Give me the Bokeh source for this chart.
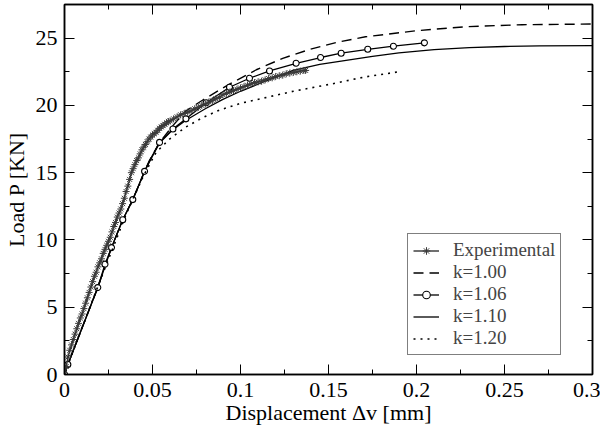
from bokeh.plotting import figure
from bokeh.models import (Range1d, FixedTicker, LinearAxis, Legend, LegendItem)
from bokeh.embed import file_html
from bokeh.resources import INLINE

# ---------------- data ----------------
exp_x = [0, 0.001, 0.002, 0.003, 0.004, 0.005, 0.006, 0.007, 0.008, 0.009,
         0.010, 0.011, 0.012, 0.013, 0.014, 0.015, 0.016, 0.017, 0.018, 0.019,
         0.020, 0.021, 0.022, 0.023, 0.024, 0.025, 0.026, 0.027, 0.028, 0.029,
         0.030, 0.031, 0.032, 0.033, 0.034, 0.035, 0.036, 0.037, 0.038, 0.039,
         0.040, 0.041, 0.042, 0.043, 0.044, 0.045, 0.046, 0.047, 0.048, 0.049,
         0.050, 0.051, 0.052, 0.053, 0.054, 0.055, 0.056, 0.057, 0.058, 0.059,
         0.060, 0.062, 0.064, 0.066, 0.068, 0.070, 0.072, 0.074, 0.076, 0.078,
         0.080, 0.082, 0.084, 0.086, 0.088, 0.090, 0.092, 0.094, 0.096, 0.098,
         0.100, 0.102, 0.104, 0.106, 0.108, 0.110, 0.112, 0.114, 0.116, 0.118,
         0.120, 0.122, 0.124, 0.126, 0.128, 0.130, 0.132, 0.134, 0.136, 0.137]
exp_y = [0, 0.6, 1.3, 1.8, 2.2, 2.6, 3.0, 3.4, 3.8, 4.2,
         4.5, 4.9, 5.3, 5.7, 6.1, 6.5, 6.9, 7.3, 7.6, 8.0,
         8.3, 8.6, 9.0, 9.3, 9.6, 9.9, 10.2, 10.6, 11.0, 11.3,
         11.7, 12.0, 12.3, 12.7, 13.1, 13.6, 14.0, 14.5, 15.0, 15.3,
         15.6, 15.9, 16.1, 16.4, 16.7, 16.9, 17.1, 17.3, 17.5, 17.65,
         17.8, 17.9, 18.0, 18.15, 18.3, 18.4, 18.5, 18.6, 18.7, 18.8,
         18.85, 19.0, 19.15, 19.3, 19.4, 19.5, 19.6, 19.75, 19.85, 20.0,
         20.1, 20.25, 20.35, 20.5, 20.6, 20.8, 20.9, 21.0, 21.1, 21.2,
         21.3, 21.4, 21.5, 21.6, 21.7, 21.75, 21.8, 21.9, 22.0, 22.05,
         22.15, 22.2, 22.25, 22.35, 22.4, 22.45, 22.5, 22.55, 22.6, 22.6]

k100_x = [0, 0.0019, 0.0189, 0.0267, 0.0331, 0.0388, 0.0417, 0.0455, 0.0483,
          0.054, 0.0616, 0.069, 0.0786, 0.090, 0.094, 0.109, 0.124, 0.139,
          0.155, 0.171, 0.200, 0.228, 0.260, 0.300]
k100_y = [0, 0.74, 6.46, 9.43, 11.5, 13.0, 13.9, 15.1, 15.9,
          17.25, 18.5, 19.6, 20.4, 21.3, 21.6, 22.65, 23.5, 24.15,
          24.7, 25.1, 25.55, 25.85, 26.0, 26.05]

k106_x = [0, 0.0019, 0.0189, 0.0230, 0.0267, 0.0331, 0.0388, 0.0455, 0.0540,
          0.0616, 0.0690, 0.0805, 0.09375, 0.1051, 0.1165, 0.1316, 0.1455,
          0.1572, 0.1723, 0.1869, 0.2045]
k106_y = [0, 0.74, 6.46, 8.2, 9.43, 11.5, 13.0, 15.1, 17.25,
          18.25, 19.0, 20.2, 21.35, 22.02, 22.56, 23.13, 23.56,
          23.88, 24.17, 24.4, 24.65]

k110_x = [0, 0.0019, 0.0189, 0.0267, 0.0331, 0.0388, 0.0417, 0.0455, 0.0483,
          0.054, 0.0616, 0.069, 0.080, 0.090, 0.100, 0.115, 0.130, 0.145,
          0.160, 0.175, 0.190, 0.210, 0.230, 0.250, 0.270, 0.300]
k110_y = [0, 0.74, 6.46, 9.43, 11.5, 13.0, 13.9, 15.1, 15.9,
          17.2, 18.2, 18.9, 19.75, 20.45, 21.05, 21.85, 22.6, 23.05,
          23.35, 23.65, 23.9, 24.15, 24.3, 24.38, 24.42, 24.45]

k120_x = [0, 0.0019, 0.020, 0.035, 0.045, 0.052, 0.0597, 0.069, 0.0786, 0.088,
          0.100, 0.115, 0.130, 0.152, 0.170, 0.190]
k120_y = [0, 0.7, 6.9, 11.9, 14.8, 16.5, 17.5, 18.4, 19.1, 19.65,
          20.15, 20.6, 21.05, 21.6, 22.1, 22.5]

x_ticks = [0, 0.05, 0.1, 0.15, 0.2, 0.25, 0.3]
x_tick_labels = ["0", "0.05", "0.1", "0.15", "0.2", "0.25", "0.3"]
x_minor = [0.025, 0.075, 0.125, 0.175, 0.225, 0.275]
y_ticks = [0, 5, 10, 15, 20, 25]
y_tick_labels = ["0", "5", "10", "15", "20", "25"]
y_minor = [2.5, 7.5, 12.5, 17.5, 22.5]

FONT = "Liberation Serif"
FS = "22px"

p = figure(frame_width=528, frame_height=370, output_backend="svg",
           toolbar_location=None,
           x_range=Range1d(0, 0.3), y_range=Range1d(0, 27.5),
           min_border_left=57, min_border_right=8, min_border_top=4,
           min_border_bottom=48)
p.grid.visible = False
p.outline_line_color = "black"
p.outline_line_width = 1.5
p.background_fill_color = "white"
p.border_fill_color = "white"


def style_axis(ax):
    ax.axis_line_color = "black"
    ax.axis_line_width = 1.5
    ax.major_tick_in = 10
    ax.major_tick_out = 0
    ax.minor_tick_in = 5
    ax.minor_tick_out = 0
    ax.major_tick_line_width = 1
    ax.minor_tick_line_width = 1
    ax.major_label_text_font = FONT
    ax.major_label_text_font_size = FS
    ax.major_label_text_color = "black"
    ax.axis_label_text_font = FONT
    ax.axis_label_text_font_size = FS
    ax.axis_label_text_font_style = "normal"
    ax.axis_label_text_color = "black"


xa = p.xaxis[0]
xa.ticker = FixedTicker(ticks=x_ticks, minor_ticks=x_minor)
xa.major_label_overrides = dict(zip(x_ticks, x_tick_labels))
xa.axis_label = "Displacement Δv [mm]"
style_axis(xa)
xa.major_label_standoff = 8
xa.axis_label_standoff = 0

ya = p.yaxis[0]
ya.ticker = FixedTicker(ticks=y_ticks, minor_ticks=y_minor)
ya.major_label_overrides = dict(zip(y_ticks, y_tick_labels))
ya.axis_label = "Load P [KN]"
style_axis(ya)
ya.major_label_standoff = 7
ya.axis_label_standoff = 4

top = LinearAxis(ticker=FixedTicker(ticks=x_ticks, minor_ticks=x_minor))
style_axis(top)
top.major_label_overrides = {t: "" for t in x_ticks}
top.major_label_standoff = 0
p.add_layout(top, "above")
right = LinearAxis(ticker=FixedTicker(ticks=y_ticks, minor_ticks=y_minor))
style_axis(right)
right.major_label_overrides = {t: "" for t in y_ticks}
right.major_label_standoff = 0
p.add_layout(right, "right")

# curves
r_d = p.line(k100_x, k100_y, line_color="black", line_width=1.4, line_dash="10 6")
r_s = p.line(k110_x, k110_y, line_color="black", line_width=1.3)
r_o_l = p.line(k106_x, k106_y, line_color="black", line_width=1.3)
r_o_m = p.scatter(k106_x, k106_y, marker="circle", size=6, line_color="black",
                  fill_color="white", line_width=1.1)
r_t = p.line(k120_x, k120_y, line_color="black", line_width=1.6, line_dash="2 5")
r_e_l = p.line(exp_x, exp_y, line_color="#333333", line_width=1.4)
r_e_m = p.scatter(exp_x, exp_y, marker="asterisk", size=7, line_color="#3a3a3a",
                  line_width=1)

legend = Legend(items=[
    LegendItem(label="Experimental", renderers=[r_e_l, r_e_m]),
    LegendItem(label="k=1.00", renderers=[r_d]),
    LegendItem(label="k=1.06", renderers=[r_o_l, r_o_m]),
    LegendItem(label="k=1.10", renderers=[r_s]),
    LegendItem(label="k=1.20", renderers=[r_t]),
], location=(343, 19))
legend.label_text_font = FONT
legend.label_text_font_size = "19px"
legend.label_height = 19
legend.glyph_height = 19
legend.glyph_width = 26
legend.label_standoff = 14
legend.spacing = 0
legend.padding = 5
legend.margin = 0
legend.border_line_color = "black"
legend.border_line_width = 1.2
legend.background_fill_alpha = 1
p.add_layout(legend, "center")

open("out.html", "w").write(file_html(p, INLINE))
